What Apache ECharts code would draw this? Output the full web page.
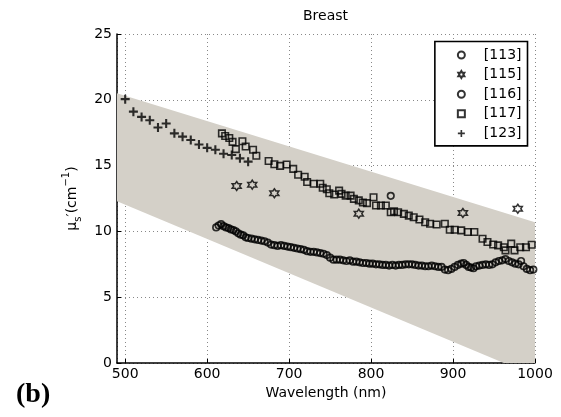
<!DOCTYPE html>
<html>
<head>
<meta charset="utf-8">
<script src="https://cdn.jsdelivr.net/npm/echarts@6/dist/echarts.min.js"></script>
<style>html,body{margin:0;padding:0;background:#fff;}#c{width:561px;height:417px;}</style>
</head>
<body>
<div id="c"></div>
<script>
// ---- data ----
const legendNames = ['[113]', '[115]', '[116]', '[117]', '[123]'];
const xTicks = [500, 600, 700, 800, 900, 1000];
const yTicks = [0, 5, 10, 15, 20, 25];

// grey band (polygon vertices)
const bandX = [490, 1000, 1000, 962, 490];
const bandY = [20.5, 10.7, 0, 0, 12.3];

// [113]
const s113X = [824];
const s113Y = [12.7];

// [115]
const s115X = [636, 655, 682, 785, 912, 979];
const s115Y = [13.45, 13.55, 12.9, 11.35, 11.4, 11.72];

// [116]
const s116X = [611,614,617,620,623,626,629,632,635,638,641,644,647,650,654,658,662,666,670,674,678,682,686,690,694,698,702,706,710,714,718,722,726,730,734,738,742,746,750,754,758,762,766,770,774,778,782,786,790,794,798,802,806,810,814,818,822,826,830,834,838,842,846,850,854,858,862,866,870,874,878,882,886,890,894,898,902,906,910,913,916,919,922,925,928,932,936,940,944,948,952,956,960,964,968,972,976,980,983,986,990,994,998];
const s116Y = [10.3,10.45,10.55,10.4,10.3,10.25,10.15,10.1,10.0,9.85,9.75,9.7,9.55,9.5,9.45,9.4,9.35,9.3,9.25,9.15,9.0,8.95,8.9,8.95,8.9,8.85,8.8,8.75,8.7,8.65,8.6,8.5,8.45,8.45,8.4,8.35,8.3,8.2,8.0,7.85,7.85,7.85,7.8,7.75,7.8,7.7,7.7,7.65,7.6,7.6,7.55,7.55,7.5,7.5,7.45,7.45,7.4,7.45,7.4,7.45,7.45,7.5,7.5,7.5,7.45,7.4,7.4,7.35,7.35,7.4,7.35,7.3,7.3,7.1,7.05,7.15,7.3,7.45,7.55,7.6,7.45,7.3,7.25,7.2,7.35,7.4,7.45,7.5,7.45,7.5,7.65,7.75,7.8,7.9,7.75,7.65,7.55,7.5,7.75,7.35,7.15,7.05,7.1];

// [117]
const s117X = [618,622,627,631,635,643,647,656,660,675,682,689,697,705,711,719,722,730,738,741,746,749,755,761,764,769,775,779,785,790,795,803,806,812,818,824,828,833,840,846,852,859,866,872,880,890,896,902,910,918,926,936,942,949,955,962,964,971,975,982,989,996];
const s117Y = [17.45,17.25,17.1,16.8,16.25,16.85,16.45,16.2,15.75,15.35,15.1,14.98,15.08,14.75,14.3,14.15,13.75,13.62,13.62,13.32,13.2,12.9,12.8,13.1,12.85,12.72,12.72,12.47,12.36,12.2,12.15,12.6,11.97,11.97,11.97,11.46,11.52,11.46,11.33,11.2,11.08,10.9,10.7,10.58,10.53,10.58,10.13,10.13,10.08,9.95,9.95,9.44,9.2,9.0,8.94,8.8,8.56,9.07,8.56,8.8,8.8,8.99];

// [123]
const s123X = [500,510,520,530,540,550,560,570,580,590,600,610,620,630,640,650];
const s123Y = [20.05,19.1,18.7,18.45,17.9,18.2,17.45,17.2,16.95,16.6,16.35,16.2,15.9,15.8,15.55,15.3];

// ---- chart ----
const FONT = 'DejaVu Sans';
const zip = (xs, ys) => xs.map((x, i) => [x, ys[i]]);
const hollow = (w) => ({ color: 'rgba(0,0,0,0)', borderColor: '#000', borderWidth: w });
const STAR = 'path://M0,-10L2.89,-5L8.66,-5L5.77,0L8.66,5L2.89,5L0,10L-2.89,5L-8.66,5L-5.77,0L-8.66,-5L-2.89,-5Z';
const PLUS = 'path://M-1.4,-6L1.4,-6L1.4,-1.4L6,-1.4L6,1.4L1.4,1.4L1.4,6L-1.4,6L-1.4,1.4L-6,1.4L-6,-1.4L-1.4,-1.4Z';
const SQUARE = 'path://M0,0L10,0L10,10L0,10Z';

const chart = echarts.init(document.getElementById('c'), null, { renderer: 'canvas' });
chart.setOption({
  animation: false,
  backgroundColor: '#fff',
  title: {
    text: 'Breast', left: 303, top: 9, padding: 0,
    textStyle: { fontFamily: FONT, fontSize: 14, fontWeight: 'normal', color: '#000' }
  },
  grid: { left: 117, top: 34, right: 26, bottom: 54, containLabel: false },
  legend: {
    orient: 'vertical', right: 33.5, top: 41.5,
    itemWidth: 35, itemHeight: 7, itemGap: 3.6,
    padding: [5.5, 6, 4.5, 22],
    borderColor: '#000', borderWidth: 1.6, backgroundColor: '#fff',
    textStyle: { fontFamily: FONT, fontSize: 14, lineHeight: 16, color: '#000' },
    data: legendNames
  },
  xAxis: {
    type: 'value', min: 490, max: 1000, splitNumber: 5,
    name: 'Wavelength (nm)', nameLocation: 'middle', nameGap: 22,
    nameTextStyle: { fontFamily: FONT, fontSize: 14, color: '#000' },
    axisLine: { lineStyle: { color: '#000', width: 1.5 } },
    axisTick: { inside: true, length: 4, lineStyle: { color: '#000' } },
    axisLabel: {
      showMinLabel: false, margin: 4, fontFamily: FONT, fontSize: 14, color: '#000',
      formatter: v => (xTicks.indexOf(v) >= 0 ? String(v) : '')
    },
    splitLine: { show: true, lineStyle: { type: [1, 3], color: '#888', width: 1 } }
  },
  yAxis: {
    type: 'value', min: yTicks[0], max: yTicks[yTicks.length - 1], interval: 5,
    name: '{a|μ}{s|s}{a|′(cm}{p|−1}{a|)}', nameLocation: 'middle', nameGap: 32, nameRotate: 90,
    nameTextStyle: {
      fontFamily: FONT, fontSize: 14, color: '#000',
      rich: {
        a: { fontFamily: FONT, fontSize: 14, color: '#000', lineHeight: 22 },
        s: { fontFamily: FONT, fontSize: 10, color: '#000', verticalAlign: 'bottom', lineHeight: 12 },
        p: { fontFamily: FONT, fontSize: 10, color: '#000', verticalAlign: 'top', lineHeight: 12 }
      }
    },
    axisLine: { show: true, lineStyle: { color: '#000', width: 1.5 } },
    axisTick: { show: true, inside: true, length: 4, lineStyle: { color: '#000' } },
    axisLabel: { margin: 5, fontFamily: FONT, fontSize: 14, color: '#000' },
    splitLine: { show: true, lineStyle: { type: [1, 3], color: '#888', width: 1 } }
  },
  graphic: [{
    type: 'text', left: 16, top: 381,
    style: { text: '(b)', font: 'bold 28px "Liberation Serif"', fill: '#000' }
  }],
  series: [
    {
      name: 'band', type: 'custom', silent: true, z: 1, clip: true,
      data: zip(bandX, bandY),
      renderItem: function (params, api) {
        if (params.dataIndex !== 0) return null;
        const pts = bandX.map((x, i) => api.coord([x, bandY[i]]));
        return { type: 'polygon', shape: { points: pts }, style: { fill: '#d4d0c8' } };
      }
    },
    { name: '[113]', type: 'scatter', z: 3, symbol: 'circle', symbolSize: 6.5, itemStyle: hollow(1.7), data: zip(s113X, s113Y) },
    { name: '[115]', type: 'scatter', z: 3, symbol: STAR, symbolSize: 9, itemStyle: hollow(1.5), data: zip(s115X, s115Y) },
    { name: '[116]', type: 'scatter', z: 3, symbol: 'circle', symbolSize: 6.5, itemStyle: hollow(1.7), data: zip(s116X, s116Y) },
    { name: '[117]', type: 'scatter', z: 3, symbol: SQUARE, symbolSize: 6.5, itemStyle: hollow(1.6), data: zip(s117X, s117Y) },
    { name: '[123]', type: 'scatter', z: 3, symbol: PLUS, symbolSize: 9, itemStyle: { color: '#000' }, data: zip(s123X, s123Y) }
  ]
});
</script>
</body>
</html>
